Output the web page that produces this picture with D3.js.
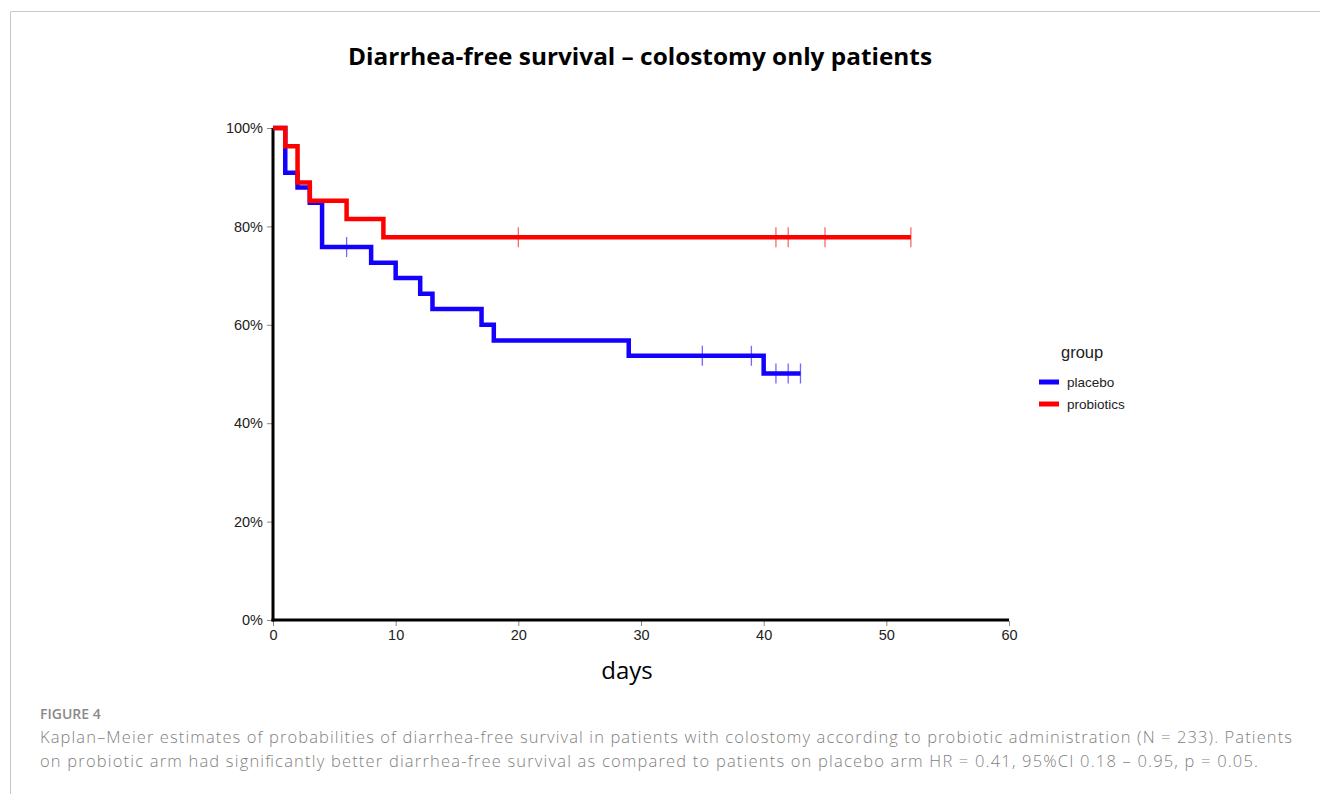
<!DOCTYPE html>
<html><head><meta charset="utf-8">
<script src="https://cdn.jsdelivr.net/npm/d3@7"></script>
<style>
body{margin:0;background:#fff;}
svg{display:block;}
</style></head>
<body>
<svg id="chart" width="1320" height="794"></svg>
<script>
// Data
const groups = ["placebo", "probiotics"];
const groupColors = ["#1400ff", "#ff0000"];
const placeboTimes = [0, 1, 2, 3, 4, 8, 10, 12, 13, 17, 18, 29, 40, 43];
const placeboSurv  = [1.0, 0.909, 0.879, 0.848, 0.758, 0.726, 0.695, 0.663, 0.632, 0.600, 0.568, 0.537, 0.501, 0.501];
const placeboCensor = [6, 35, 39, 41, 42, 43];
const probioticTimes = [0, 1, 2, 3, 6, 9, 52];
const probioticSurv  = [1.0, 0.963, 0.889, 0.852, 0.815, 0.778, 0.778];
const probioticCensor = [20, 41, 42, 45, 52];
const xTicks = [0, 10, 20, 30, 40, 50, 60];
const yTicks = [0, 0.2, 0.4, 0.6, 0.8, 1.0];
const titleText = "Diarrhea-free survival – colostomy only patients";
const xLabel = "days";
const legendTitle = "group";
const figLabel = "FIGURE 4";
const captionLines = [
  "Kaplan–Meier estimates of probabilities of diarrhea-free survival in patients with colostomy according to probiotic administration (N = 233). Patients",
  "on probiotic arm had significantly better diarrhea-free survival as compared to patients on placebo arm HR = 0.41, 95%CI 0.18 – 0.95, p = 0.05."
];
const captionWidths = [1252, 1218];

const svg = d3.select("#chart");

// border
svg.append("path").attr("d", "M10.5,794 L10.5,11.5 L1320,11.5")
  .attr("fill", "none").attr("stroke", "#c8c8c8").attr("stroke-width", 1);

const x = d3.scaleLinear().domain([0, 60]).range([273, 1009]);
const y = d3.scaleLinear().domain([0, 1]).range([620, 128]);

// title
svg.append("text").attr("x", 640).attr("y", 65).attr("text-anchor", "middle")
  .attr("font-family", "Open Sans, sans-serif").attr("font-weight", "bold")
  .attr("font-size", 24).attr("textLength", 584).attr("lengthAdjust", "spacingAndGlyphs")
  .attr("fill", "#000").text(titleText);

// axes
const yAxis = d3.axisLeft(y).tickValues(yTicks).tickFormat(d3.format(".0%")).tickSize(5).tickPadding(4);
const gy = svg.append("g").attr("transform", `translate(${x(0) - 1},0)`).call(yAxis);
gy.select(".domain").remove();
gy.selectAll(".tick line").attr("stroke", "#888");
gy.selectAll(".tick text").attr("font-family", "Liberation Sans, Arial, sans-serif").attr("font-size", 14.5).attr("fill", "#222");

const xAxis = d3.axisBottom(x).tickValues(xTicks).tickSize(5).tickPadding(4);
const gx = svg.append("g").attr("transform", `translate(0,${y(0) + 1})`).call(xAxis);
gx.select(".domain").remove();
gx.selectAll(".tick line").attr("stroke", "#888");
gx.selectAll(".tick text").attr("font-family", "Liberation Sans, Arial, sans-serif").attr("font-size", 14.5).attr("fill", "#222");

svg.append("line").attr("x1", x(0)).attr("x2", x(0)).attr("y1", y(1)).attr("y2", y(0) + 1.5)
  .attr("stroke", "#000").attr("stroke-width", 3);
svg.append("line").attr("x1", x(0) - 1.5).attr("x2", x(60)).attr("y1", y(0)).attr("y2", y(0))
  .attr("stroke", "#000").attr("stroke-width", 3);

svg.append("text").attr("x", 627).attr("y", 679).attr("text-anchor", "middle")
  .attr("font-family", "Open Sans, sans-serif").attr("font-size", 24).attr("fill", "#000").text(xLabel);

// curves
const step = d3.line().x(d => x(d[0])).y(d => y(d[1])).curve(d3.curveStepAfter);
const series = [
  {times: placeboTimes, surv: placeboSurv, censor: placeboCensor, color: groupColors[0]},
  {times: probioticTimes, surv: probioticSurv, censor: probioticCensor, color: groupColors[1]}
];
function survAt(s, t) {
  let v = 1;
  for (let i = 0; i < s.times.length; i++) if (s.times[i] <= t) v = s.surv[i];
  return v;
}
series.forEach(s => {
  const pts = s.times.map((t, i) => [t, s.surv[i]]);
  svg.append("path").datum(pts).attr("d", step).attr("fill", "none")
    .attr("stroke", s.color).attr("stroke-width", 4.5).attr("stroke-linejoin", "miter").attr("stroke-linecap", "butt");
});
series.forEach(s => {
  svg.append("g").selectAll("line").data(s.censor).join("line")
    .attr("x1", d => x(d)).attr("x2", d => x(d))
    .attr("y1", d => y(survAt(s, d)) - 10).attr("y2", d => y(survAt(s, d)) + 10)
    .attr("stroke", s.color).attr("stroke-opacity", 0.6).attr("stroke-width", 1.3);
});

// legend
svg.append("text").attr("x", 1061).attr("y", 358).attr("font-family", "Liberation Sans, Arial, sans-serif")
  .attr("font-size", 16.5).attr("fill", "#222").text(legendTitle);
const lg = svg.append("g").selectAll("g").data(groups).join("g")
  .attr("transform", (d, i) => `translate(1039,${382 + i * 22})`);
lg.append("line").attr("x1", 0).attr("x2", 20).attr("y1", 0).attr("y2", 0)
  .attr("stroke", (d, i) => groupColors[i]).attr("stroke-width", 5);
lg.append("text").attr("x", 28).attr("y", 4.5).attr("font-family", "Liberation Sans, Arial, sans-serif")
  .attr("font-size", 13.5).attr("fill", "#222").text(d => d);

// caption
svg.append("text").attr("x", 40).attr("y", 719).attr("font-family", "Open Sans, sans-serif")
  .attr("font-weight", 600).attr("font-size", 14).attr("fill", "#8a8a8a").text(figLabel);
svg.append("g").selectAll("text").data(captionLines).join("text")
  .attr("x", 40).attr("y", (d, i) => 743 + i * 24)
  .attr("font-family", "Open Sans, sans-serif").attr("font-weight", 300).attr("font-size", 16.5).attr("fill", "#7f7f7f")
  .attr("textLength", (d, i) => captionWidths[i]).attr("lengthAdjust", "spacing").text(d => d);
</script>
</body></html>
